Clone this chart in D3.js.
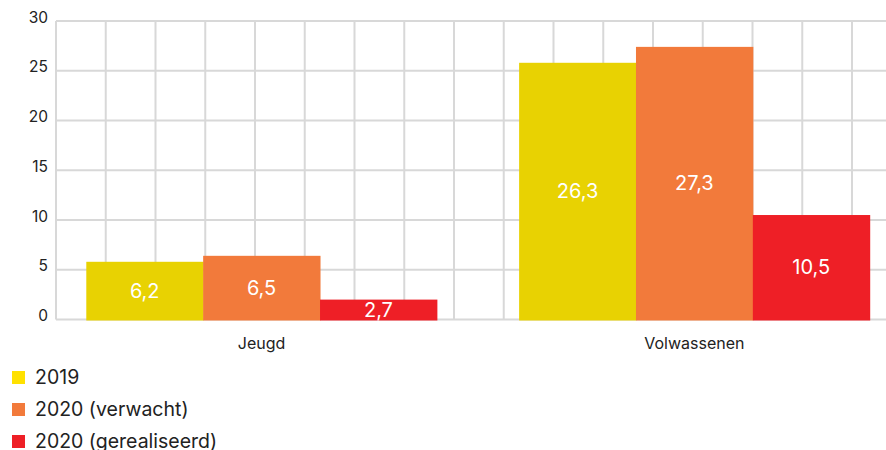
<!DOCTYPE html>
<html>
<head>
<meta charset="utf-8">
<script src="https://cdn.jsdelivr.net/npm/d3@7"></script>
<style>
  body { margin: 0; background: #fff; }
  svg { display: block; font-family: Inter, "Liberation Sans", sans-serif; }
</style>
</head>
<body>
<div id="svgWrapper"></div>
<script>
// categories and series
var categories = ["Jeugd", "Volwassenen"];
var seriesNames = ["2019", "2020 (verwacht)", "2020 (gerealiseerd)"];
// bar heights as drawn in the picture, per category
var values2019 = [5.8, 25.8];
var valuesVerwacht = [6.4, 27.4];
var valuesGerealiseerd = [2.0, 10.5];
// printed labels in the bars
var labels2019 = ["6,2", "26,3"];
var labelsVerwacht = ["6,5", "27,3"];
var labelsGerealiseerd = ["2,7", "10,5"];
var yTicks = [0, 5, 10, 15, 20, 25, 30];

var colors = ["#e8d202", "#f27a3b", "#ee1f26"];
var legendColors = ["#ffe100", "#f27a3b", "#ee1f26"];

var fullWidth = 886, fullHeight = 450;
var plotLeft = 56, plotTop = 21, plotBottom = 319.5;

var svg = d3.select("#svgWrapper")
  .append("svg")
  .attr("width", fullWidth)
  .attr("height", fullHeight);

var yScale = d3.scaleLinear().domain([0, 30]).range([plotBottom, plotTop]);
var xScale = d3.scaleBand().domain(categories).range([plotLeft, 900])
  .paddingInner(0.19).paddingOuter(0.07);
var xInner = d3.scaleBand().domain(seriesNames).range([0, xScale.bandwidth()]);

// grid: square cells, step taken from the y scale
var cell = yScale(0) - yScale(5);
var grid = svg.append("g").attr("id", "grid")
  .attr("stroke", "#d8d8d8").attr("stroke-width", 2);
grid.selectAll("line.h").data(yTicks).enter().append("line")
  .attr("class", "h")
  .attr("x1", plotLeft).attr("x2", fullWidth)
  .attr("y1", d => yScale(d)).attr("y2", d => yScale(d));
grid.selectAll("line.v").data(d3.range(plotLeft, fullWidth + 1, cell)).enter().append("line")
  .attr("class", "v")
  .attr("x1", d => d).attr("x2", d => d)
  .attr("y1", plotTop).attr("y2", plotBottom);

// y tick labels
svg.append("g").selectAll("text").data(yTicks).enter().append("text")
  .attr("x", 48)
  .attr("y", d => yScale(d) + 1.5)
  .attr("text-anchor", "end")
  .attr("font-size", 15.5)
  .attr("fill", "#222")
  .text(d => d);

// category labels
svg.append("g").selectAll("text").data(categories).enter().append("text")
  .attr("x", d => xScale(d) + xScale.bandwidth() / 2)
  .attr("y", 349)
  .attr("text-anchor", "middle")
  .attr("font-size", 16)
  .attr("fill", "#222")
  .text(d => d);

// bars
var allValues = [values2019, valuesVerwacht, valuesGerealiseerd];
var allLabels = [labels2019, labelsVerwacht, labelsGerealiseerd];
var barData = [];
categories.forEach(function(c, ci) {
  seriesNames.forEach(function(s, si) {
    barData.push({cat: c, series: s, si: si, value: allValues[si][ci], label: allLabels[si][ci]});
  });
});

var bars = svg.append("g").selectAll("g.bar").data(barData).enter().append("g").attr("class", "bar");
bars.append("rect")
  .attr("x", d => xScale(d.cat) + xInner(d.series))
  .attr("width", xInner.bandwidth() + 0.5)
  .attr("y", d => yScale(d.value))
  .attr("height", d => yScale(0) - yScale(d.value) + 1)
  .attr("fill", d => colors[d.si]);
bars.append("text")
  .attr("x", d => xScale(d.cat) + xInner(d.series) + xInner.bandwidth() / 2)
  .attr("y", d => (yScale(d.value) + yScale(0)) / 2)
  .attr("dy", "0.36em")
  .attr("text-anchor", "middle")
  .attr("font-size", 20)
  .attr("fill", "#fff")
  .text(d => d.label);

// legend
var legend = svg.append("g").selectAll("g").data(seriesNames).enter().append("g")
  .attr("transform", (d, i) => "translate(12," + (384 + i * 32) + ")");
legend.append("rect")
  .attr("x", 0).attr("y", -13)
  .attr("width", 13).attr("height", 13)
  .attr("fill", (d, i) => legendColors[i]);
legend.append("text")
  .attr("x", 23).attr("y", 0)
  .attr("font-size", 19.5)
  .attr("fill", "#222")
  .text(d => d);
</script>
</body>
</html>
